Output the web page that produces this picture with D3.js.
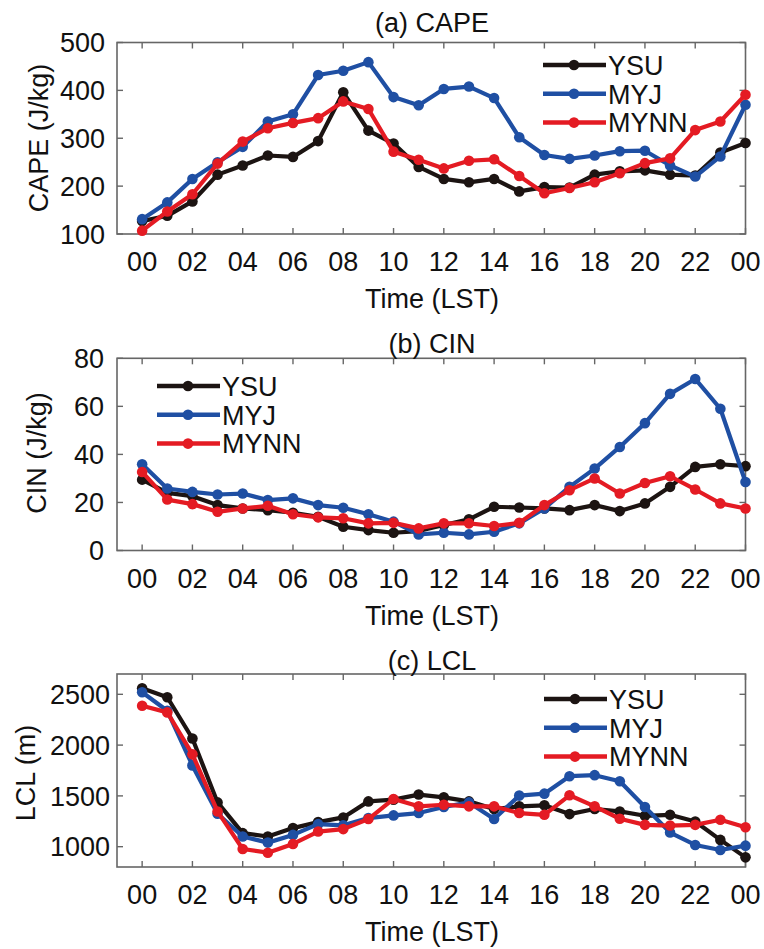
<!DOCTYPE html>
<html>
<head>
<meta charset="utf-8">
<script src="https://cdn.jsdelivr.net/npm/d3@7/dist/d3.min.js"></script>
<style>
  html, body { margin: 0; padding: 0; background: #fff; }
  svg text { font-family: "Liberation Sans", Arial, sans-serif; fill: #111; }
</style>
</head>
<body>
<svg id="chart" width="764" height="949"></svg>
<script>
const hours = d3.range(0, 25);
const tickHours = [0, 2, 4, 6, 8, 10, 12, 14, 16, 18, 20, 22, 24];
const tickLabels = ["00","02","04","06","08","10","12","14","16","18","20","22","00"];
const seriesNames = ["YSU", "MYJ", "MYNN"];

const capeYSU  = [127,138,168,224,243,264,261,294,396,316,289,240,215,208,215,189,198,197,224,231,233,224,222,270,290];
const capeMYJ  = [131,166,215,250,282,335,350,432,441,459,386,369,403,408,384,302,265,257,264,273,274,243,220,262,370];
const capeMYNN = [107,147,183,247,293,321,332,342,377,361,272,255,237,253,256,221,185,196,208,227,248,258,317,335,391];

const cinYSU  = [29.5,24,22.6,18.9,17.5,16.8,15.7,14,9.9,8.5,7.4,8.1,10.6,13,18.2,17.9,17.5,16.8,18.9,16.4,19.6,26.5,34.8,35.9,35.1];
const cinMYJ  = [35.9,25.8,24.4,23.3,23.7,21,21.7,18.9,17.8,15.1,12,6.7,7.4,6.7,7.8,11.3,17.5,26.5,34.1,43.1,53,65.2,71.4,59,28.5];
const cinMYNN = [32.7,21.2,19.3,16.1,17.5,18.6,15.1,13.8,13.4,11.3,11.5,9.2,11.3,11.3,10.2,11.5,18.9,25.1,30,23.7,28.1,30.9,25.4,19.6,17.5];

const lclYSU  = [2560,2471,2065,1436,1133,1100,1183,1242,1288,1446,1463,1513,1486,1446,1371,1397,1407,1321,1371,1347,1304,1314,1248,1067,895];
const lclMYJ  = [2520,2338,1800,1324,1100,1040,1116,1222,1210,1282,1308,1331,1391,1436,1272,1503,1522,1694,1704,1644,1391,1139,1017,967,1010];
const lclMYNN = [2388,2322,1909,1347,977,941,1027,1149,1173,1272,1470,1397,1413,1397,1397,1331,1314,1506,1397,1275,1215,1208,1215,1265,1192];

const capeTicks = [100, 200, 300, 400, 500];
const cinTicks = [0, 20, 40, 60, 80];
const lclTicks = [1000, 1500, 2000, 2500];

const colors = ["#1c1412", "#1f4fa3", "#e41b23"];
const FS = 27;

const svg = d3.select("#chart");

function panel(cfg) {
  const x = d3.scaleLinear().domain([-1, 24]).range([117, 745.5]);
  const y = d3.scaleLinear().domain(cfg.ydomain).range([cfg.bottom, cfg.top]);
  const g = svg.append("g");

  // frame
  g.append("rect").attr("x", x(-1)).attr("y", cfg.top)
    .attr("width", x(24) - x(-1)).attr("height", cfg.bottom - cfg.top)
    .attr("fill", "none").attr("stroke", "#666").attr("stroke-width", 1.6);

  // inward ticks (bottom/top, left/right)
  const tl = 6;
  tickHours.forEach(h => {
    g.append("line").attr("x1", x(h)).attr("x2", x(h)).attr("y1", cfg.bottom).attr("y2", cfg.bottom - tl)
      .attr("stroke", "#666").attr("stroke-width", 1.4);
    g.append("line").attr("x1", x(h)).attr("x2", x(h)).attr("y1", cfg.top).attr("y2", cfg.top + tl)
      .attr("stroke", "#666").attr("stroke-width", 1.4);
  });
  cfg.yticks.forEach(v => {
    g.append("line").attr("x1", x(-1)).attr("x2", x(-1) + tl).attr("y1", y(v)).attr("y2", y(v))
      .attr("stroke", "#666").attr("stroke-width", 1.4);
    g.append("line").attr("x1", x(24)).attr("x2", x(24) - tl).attr("y1", y(v)).attr("y2", y(v))
      .attr("stroke", "#666").attr("stroke-width", 1.4);
  });

  // tick labels
  tickHours.forEach((h, i) => {
    g.append("text").attr("x", x(h)).attr("y", cfg.bottom + 37)
      .attr("text-anchor", "middle").attr("font-size", FS).text(tickLabels[i]);
  });
  cfg.yticks.forEach(v => {
    g.append("text").attr("x", cfg.ytx).attr("y", y(v)).attr("dy", "0.36em")
      .attr("text-anchor", "end").attr("font-size", FS).text(v);
  });

  // axis titles
  g.append("text").attr("x", 432).attr("y", cfg.bottom + 74)
    .attr("text-anchor", "middle").attr("font-size", FS).text("Time (LST)");
  g.append("text").attr("transform", `translate(${cfg.ylx},${cfg.ymid}) rotate(-90)`)
    .attr("text-anchor", "middle").attr("font-size", FS).text(cfg.ylabel);
  g.append("text").attr("x", 432).attr("y", cfg.titleY)
    .attr("text-anchor", "middle").attr("font-size", FS).text(cfg.title);

  // series
  const line = d3.line().x((d, i) => x(hours[i])).y(d => y(d));
  cfg.series.forEach((s, k) => {
    g.append("path").datum(s).attr("d", line).attr("fill", "none")
      .attr("stroke", colors[k]).attr("stroke-width", 4.2).attr("stroke-linejoin", "round");
    g.selectAll(null).data(s).enter().append("circle")
      .attr("cx", (d, i) => x(hours[i])).attr("cy", d => y(d)).attr("r", 5.3)
      .attr("fill", colors[k]);
  });

  // legend
  seriesNames.forEach((n, k) => {
    const ly = cfg.legY + k * 28.8;
    g.append("line").attr("x1", cfg.legX).attr("x2", cfg.legX + 63).attr("y1", ly).attr("y2", ly)
      .attr("stroke", colors[k]).attr("stroke-width", 4.5);
    g.append("circle").attr("cx", cfg.legX + 31).attr("cy", ly).attr("r", 5.3).attr("fill", colors[k]);
    g.append("text").attr("x", cfg.legX + 65).attr("y", ly).attr("dy", "0.36em")
      .attr("font-size", FS).text(n);
  });
}

panel({ ydomain: [100, 500], top: 42.5, bottom: 234, yticks: capeTicks, ylabel: "CAPE (J/kg)", ytx: 105, ylx: 48,
        ymid: 138, title: "(a) CAPE", titleY: 32, series: [capeYSU, capeMYJ, capeMYNN], legX: 543, legY: 65 });
panel({ ydomain: [0, 80], top: 358.3, bottom: 550.5, yticks: cinTicks, ylabel: "CIN (J/kg)", ytx: 104, ylx: 46,
        ymid: 453, title: "(b) CIN", titleY: 353, series: [cinYSU, cinMYJ, cinMYNN], legX: 157, legY: 386 });
panel({ ydomain: [800, 2700], top: 674, bottom: 867, yticks: lclTicks, ylabel: "LCL (m)", ytx: 110, ylx: 35,
        ymid: 773, title: "(c) LCL", titleY: 670, series: [lclYSU, lclMYJ, lclMYNN], legX: 544, legY: 699 });
</script>
</body>
</html>
